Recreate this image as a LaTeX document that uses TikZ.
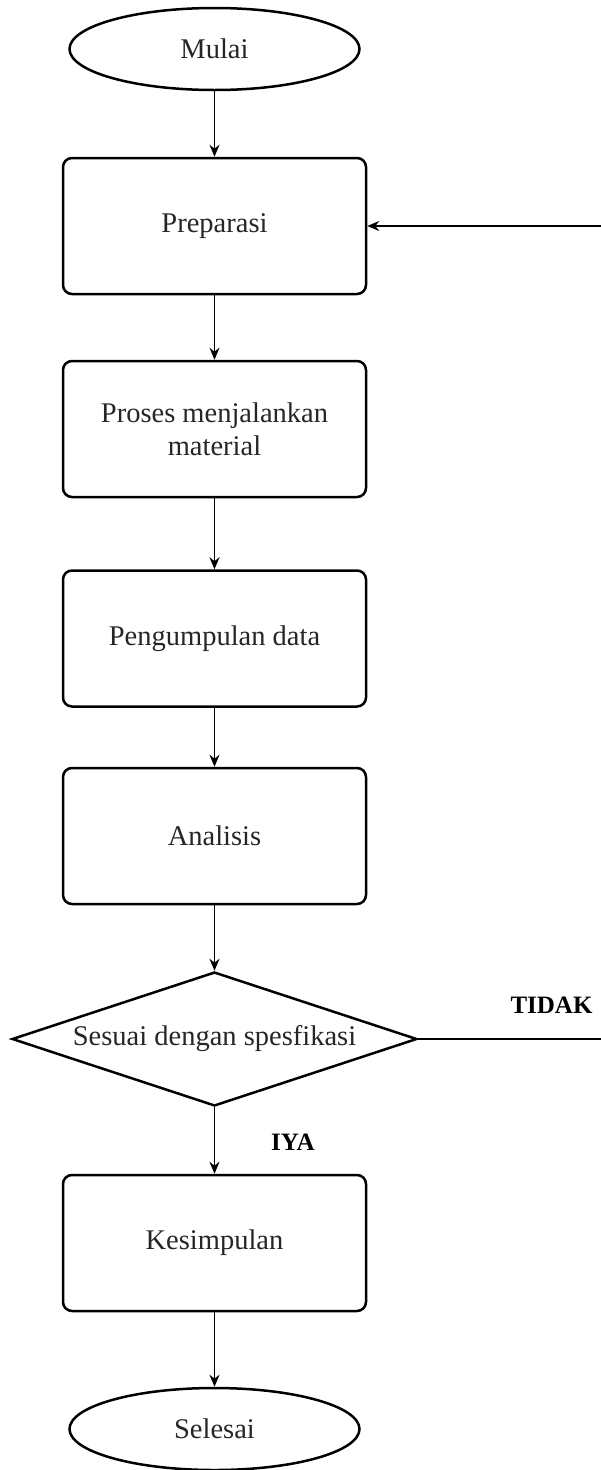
\documentclass[tikz,border=0pt]{standalone}
\usepackage{fontspec}
\setmainfont{Liberation Serif}
\usetikzlibrary{
  arrows.meta,
  positioning,
  shapes.geometric,
}
\tikzset{
  >={Stealth[length=12pt,width=10pt]},
}

\begin{document}
\begin{tikzpicture}[x=1pt, y=-1pt,
    every node/.style={font=\fontsize{28.5}{33}\selectfont, text=black!85},
    box/.style={draw, line width=2.5pt, rounded corners=9pt, minimum width=303pt,
                minimum height=136pt, align=center},
    terminal/.style={draw, ellipse, line width=2.5pt, minimum width=290pt,
                     minimum height=82pt, inner sep=0pt},
    decision/.style={draw, diamond, line width=2.5pt, aspect=3, minimum width=405pt,
                     minimum height=134pt, inner sep=0pt},
    label/.style={font=\fontsize{25}{30}\selectfont\bfseries, text=black},
    flow/.style={->, line width=1.7pt}]
  \useasboundingbox (0,0) rectangle (601,1470);
  \node [terminal] (mulai) at (214.5,49) {Mulai};
  \node [box] (prep) at (214.5,226) {Preparasi};
  \node [box] (proses) at (214.5,429) {Proses menjalankan\\material};
  \node [box] (kumpul) at (214.5,638.5) {Pengumpulan data};
  \node [box] (analisis) at (214.5,836) {Analisis};
  \node [decision] (cek) at (214.5,1039) {Sesuai dengan spesfikasi};
  \node [box] (simpul) at (214.5,1243) {Kesimpulan};
  \node [terminal] (selesai) at (214.5,1429) {Selesai};
  \node [label] (tidak) at (551.5,1005) {TIDAK};
  \node [label] (iya) at (293,1142) {IYA};
  \coordinate (tidakend) at (601,1039);
  \coordinate (balik) at (601,226);
  % alur utama
  \draw [flow] (mulai) -- (prep);
  \draw [flow] (prep) -- (proses);
  \draw [flow] (proses) -- (kumpul);
  \draw [flow] (kumpul) -- (analisis);
  \draw [flow] (analisis) -- (cek);
  \draw [flow] (cek) -- (simpul);
  \draw [flow] (simpul) -- (selesai);
  % kembali ke preparasi
  \draw [line width=1.7pt] (cek.east) -- (tidakend);
  \draw [flow] (balik) -- (prep.east);
\end{tikzpicture}
\end{document}
